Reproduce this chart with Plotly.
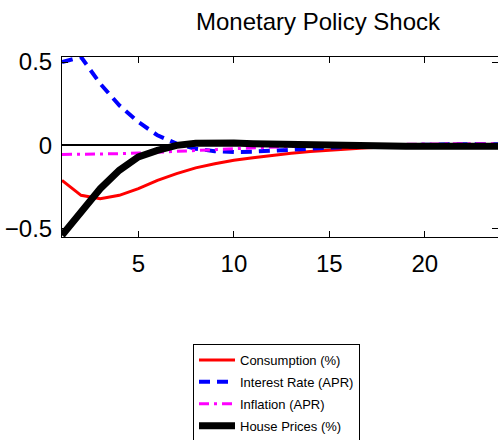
import plotly.graph_objects as go

horizon = list(range(1, 25))

consumption = [-0.21, -0.30, -0.32, -0.30, -0.26, -0.21, -0.17, -0.135, -0.11, -0.09,
               -0.075, -0.06, -0.048, -0.037, -0.028, -0.02, -0.014, -0.01, -0.007,
               -0.005, -0.004, -0.003, -0.002, -0.002]
interest_rate = [0.50, 0.53, 0.37, 0.24, 0.14, 0.06, 0.01, -0.02, -0.035, -0.04,
                 -0.038, -0.032, -0.025, -0.018, -0.012, -0.007, -0.003, 0.0, 0.003,
                 0.005, 0.006, 0.007, 0.007, 0.007]
inflation = [-0.055, -0.054, -0.052, -0.05, -0.046, -0.042, -0.037, -0.032, -0.026,
             -0.02, -0.015, -0.01, -0.006, -0.003, 0.0, 0.002, 0.004, 0.006, 0.007,
             0.008, 0.009, 0.009, 0.01, 0.01]
house_prices = [-0.54, -0.40, -0.26, -0.15, -0.07, -0.03, 0.0, 0.012, 0.015, 0.014,
                0.01, 0.007, 0.003, 0.0, -0.002, -0.004, -0.005, -0.005, -0.005,
                -0.005, -0.005, -0.005, -0.005, -0.005]

x_ticks = [5, 10, 15, 20]
y_ticks = [-0.5, 0, 0.5]
y_ticktext = ["\u22120.5", "0", "0.5"]

FONT = "Liberation Sans, Arial, Helvetica, sans-serif"

fig = go.Figure()
fig.add_trace(go.Scatter(x=horizon, y=consumption, mode="lines", name="Consumption (%)",
                         legendgroup="c", line=dict(color="#ff0000", width=3)))
fig.add_trace(go.Scatter(x=horizon, y=interest_rate, mode="lines", name="Interest Rate (APR)",
                         legendgroup="i", line=dict(color="#0000ff", width=4, dash="11px,7px")))
fig.add_trace(go.Scatter(x=horizon, y=inflation, mode="lines", name="Inflation (APR)",
                         legendgroup="p",
                         line=dict(color="#ff00ff", width=3, dash="10px,5px,3px,5px")))
fig.add_trace(go.Scatter(x=horizon, y=house_prices, mode="lines", name="House Prices (%)",
                         legendgroup="h", line=dict(color="#000000", width=7)))

fig.update_layout(
    width=498, height=440, autosize=False,
    margin=dict(l=62, r=0, t=57, b=203, pad=0, autoexpand=False),
    paper_bgcolor="white", plot_bgcolor="white",
    font=dict(family=FONT, color="black"),
    title=dict(text="Monetary Policy Shock", font=dict(family=FONT, size=24, color="black"),
               x=318 / 498, xanchor="center", xref="container",
               y=1 - 22 / 440, yanchor="middle", yref="container"),
    showlegend=True,
    legend=dict(x=193 / 498, y=1 - 344 / 440, xanchor="left", yanchor="top",
                xref="container", yref="container",
                bordercolor="black", borderwidth=1, bgcolor="white",
                font=dict(family=FONT, size=13, color="black"),
                itemwidth=36, tracegroupgap=2),
    xaxis=dict(range=[1, 23.83], tickvals=x_ticks, ticks="inside", ticklen=6, tickwidth=1,
               tickcolor="black", showline=True, linecolor="black", linewidth=1,
               mirror="ticks", showgrid=False, zeroline=False, automargin=False,
               tickfont=dict(family=FONT, size=24, color="black"), ticklabelstandoff=5),
    yaxis=dict(range=[-0.55, 0.53], tickvals=y_ticks, ticktext=y_ticktext, ticks="inside",
               ticklen=6, tickwidth=1, tickcolor="black", showline=True, linecolor="black",
               linewidth=1, mirror="ticks", showgrid=False, zeroline=True, automargin=False,
               zerolinecolor="black", zerolinewidth=1.5,
               tickfont=dict(family=FONT, size=24, color="black"), ticklabelstandoff=4),
)

fig.write_html("out.html")
